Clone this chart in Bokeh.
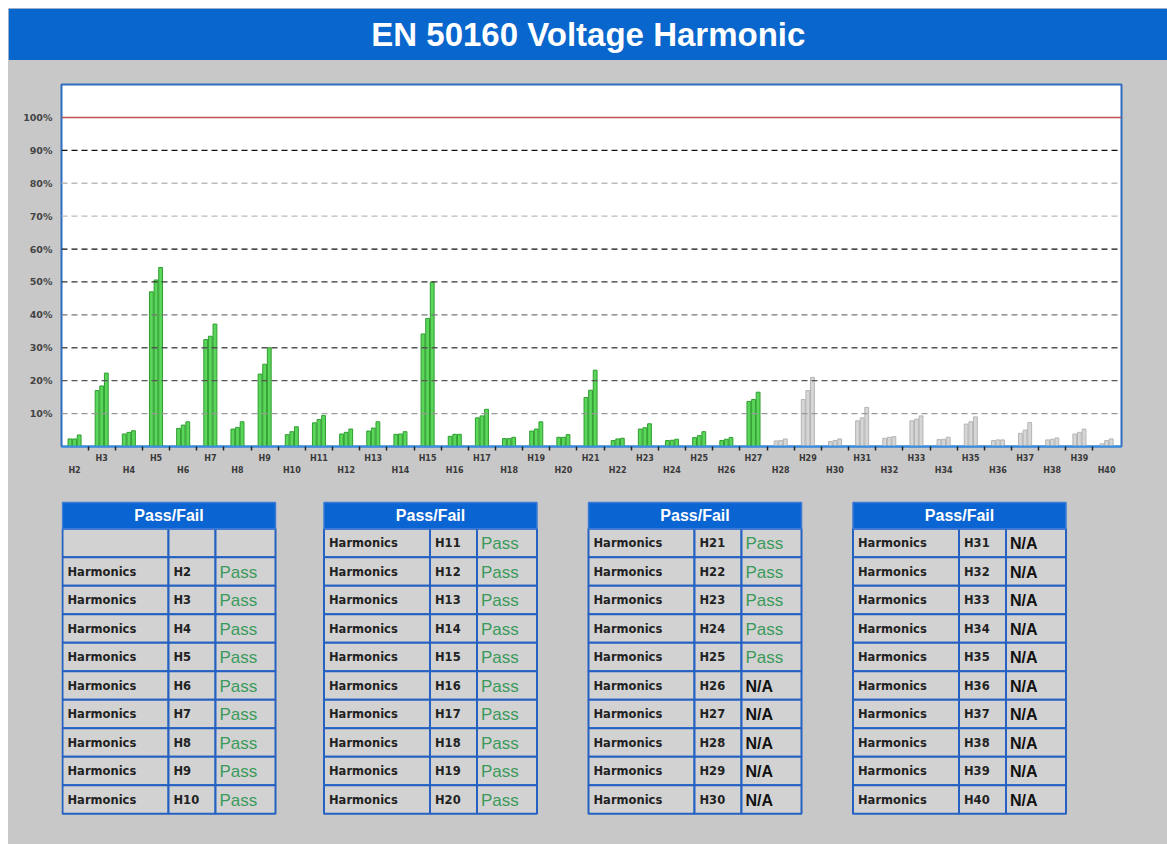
from bokeh.plotting import figure
from bokeh.models import Range1d, FixedTicker, PrintfTickFormatter, LinearAxis, Span, ColumnDataSource
from bokeh.layouts import column
from bokeh.embed import file_html
from bokeh.resources import INLINE
from bokeh.core.properties import value
from bokeh.transform import dodge

# ---------------- data ----------------
harmonics = ["H2", "H3", "H4", "H5", "H6", "H7", "H8", "H9", "H10", "H11",
             "H12", "H13", "H14", "H15", "H16", "H17", "H18", "H19", "H20", "H21",
             "H22", "H23", "H24", "H25", "H26", "H27", "H28", "H29", "H30", "H31",
             "H32", "H33", "H34", "H35", "H36", "H37", "H38", "H39", "H40"]
phase_a = [2.3, 17.0, 3.8, 47.0, 5.5, 32.5, 5.3, 22.0, 3.6, 7.2,
           3.8, 4.7, 3.7, 34.2, 3.1, 8.7, 2.4, 4.7, 2.8, 14.9,
           1.8, 5.3, 1.8, 2.7, 1.8, 13.7, 1.7, 14.3, 1.5, 7.8,
           2.5, 7.8, 2.1, 6.8, 1.8, 4.0, 2.0, 3.8, 0.8]
phase_b = [2.3, 18.4, 4.3, 50.6, 6.5, 33.5, 5.8, 25.0, 4.5, 8.2,
           4.3, 5.6, 3.8, 38.9, 3.7, 9.3, 2.4, 5.3, 2.8, 17.1,
           2.3, 5.7, 1.9, 3.3, 2.2, 14.3, 1.8, 17.0, 1.8, 8.7,
           2.8, 8.3, 2.2, 7.5, 2.0, 5.0, 2.2, 4.3, 1.8]
phase_c = [3.5, 22.3, 4.8, 54.4, 7.5, 37.2, 7.5, 30.0, 6.0, 9.4,
           5.3, 7.5, 4.5, 50.0, 3.7, 11.3, 2.8, 7.5, 3.6, 23.2,
           2.5, 6.9, 2.2, 4.5, 2.7, 16.5, 2.3, 21.0, 2.3, 11.9,
           3.0, 9.3, 2.8, 9.0, 2.0, 7.3, 2.6, 5.3, 2.3]
status = ["Pass", "Pass", "Pass", "Pass", "Pass", "Pass", "Pass", "Pass", "Pass", "Pass",
          "Pass", "Pass", "Pass", "Pass", "Pass", "Pass", "Pass", "Pass", "Pass", "Pass",
          "Pass", "Pass", "Pass", "Pass", "N/A", "N/A", "N/A", "N/A", "N/A", "N/A",
          "N/A", "N/A", "N/A", "N/A", "N/A", "N/A", "N/A", "N/A", "N/A"]
y_ticks = [10, 20, 30, 40, 50, 60, 70, 80, 90, 100]
limit = 100
last_green_order = 27
title_text = "EN 50160 Voltage Harmonic"
table_title = "Pass/Fail"
row_label = "Harmonics"
# harmonics listed in each of the four tables ("" = empty row)
table_groups = [[""] + harmonics[0:9], harmonics[9:19], harmonics[19:29], harmonics[29:39]]

# ---------------- style / layout ----------------
BG = "#c8c8c8"
TITLE_BLUE = "#0866cc"
FRAME_BLUE = "#2f6cc0"
GREEN_FILL, GREEN_LINE = "#5ad65a", "#2f9e2f"
GRAY_FILL, GRAY_LINE = "#d6d6d6", "#b4b4b4"
W = 1159          # page x 8 .. 1167
BL, BR = 53, 46   # shared left/right borders -> frame spans page x 61 .. 1121
FRAME_L, FRAME_R = 8 + BL, 8 + W - BR

# ---------------- title bar ----------------
tf = figure(width=W, height=52, x_range=Range1d(0, 1), y_range=Range1d(0, 1),
            toolbar_location=None, output_backend="svg",
            x_axis_location=None, y_axis_location=None,
            min_border_left=BL, min_border_right=BR, min_border_top=2, min_border_bottom=2)
tf.grid.visible = False
tf.background_fill_color = TITLE_BLUE
tf.border_fill_color = TITLE_BLUE
tf.outline_line_color = TITLE_BLUE
tf.outline_line_width = 2
tf.text(x=[0.497], y=[0.5], text=[title_text], text_align="center", text_baseline="middle",
        text_color="white", text_font=value("Liberation Sans"),
        text_font_style="bold", text_font_size="33px")

# ---------------- bar chart ----------------
idx = list(range(len(harmonics)))
orders = [int(h[1:]) for h in harmonics]
fills = [GREEN_FILL if o <= last_green_order else GRAY_FILL for o in orders]
lines = [GREEN_LINE if o <= last_green_order else GRAY_LINE for o in orders]
src = ColumnDataSource(dict(idx=idx, a=phase_a, b=phase_b, c=phase_c, fill=fills, line=lines))

p = figure(width=W, height=430, x_range=Range1d(-0.48, 38.55), y_range=Range1d(0, 110),
           toolbar_location=None, output_backend="svg",
           x_axis_location=None, y_axis_location=None,
           min_border_left=BL, min_border_right=BR, min_border_top=24, min_border_bottom=44)
p.grid.visible = False
p.background_fill_color = "white"
p.border_fill_color = BG
p.outline_line_color = FRAME_BLUE
p.outline_line_width = 2

grid_colors = {10: "#999999", 20: "#555555", 30: "#555555", 40: "#777777", 50: "#333333",
               60: "#111111", 70: "#bbbbbb", 80: "#bbbbbb", 90: "#111111"}
for lvl in y_ticks:
    if lvl == limit:
        continue
    p.add_layout(Span(location=lvl, dimension="width", line_color=grid_colors[lvl],
                      line_dash="6 4", line_width=1.3))
p.add_layout(Span(location=limit, dimension="width", line_color="#c0504d", line_width=1.5))

for col, off in (("a", -0.17), ("b", 0.0), ("c", 0.17)):
    p.vbar(x=dodge("idx", off, range=p.x_range), top=col, width=0.14, bottom=0, source=src,
           fill_color="fill", line_color="line", line_width=1)

yax = LinearAxis(ticker=FixedTicker(ticks=y_ticks), formatter=PrintfTickFormatter(format="%d%%"),
                 axis_line_color=None, major_tick_line_color=None, minor_tick_line_color=None,
                 major_tick_out=0, major_tick_in=0, minor_tick_out=0, minor_tick_in=0,
                 major_label_standoff=9, major_label_text_font_size="9.5px",
                 major_label_text_font="DejaVu Sans", major_label_text_font_style="bold",
                 major_label_text_color="#444444")
p.add_layout(yax, "left")

odd_idx = [i for i in idx if orders[i] % 2 == 1]
even_idx = [i for i in idx if orders[i] % 2 == 0]
bounds = [i + 0.5 for i in idx[:-1]]
lab_kw = dict(major_label_text_font_size="8px", major_label_text_font="DejaVu Sans",
              major_label_text_font_style="bold", major_label_text_color="#3a3a3a")
ax1 = LinearAxis(ticker=FixedTicker(ticks=odd_idx, minor_ticks=bounds),
                 major_label_overrides={i: harmonics[i] for i in odd_idx},
                 major_tick_out=0, major_tick_in=0, minor_tick_out=4, minor_tick_in=0,
                 minor_tick_line_color="#222222", minor_tick_line_width=1.5,
                 axis_line_color="#3a8ee0", axis_line_width=2,
                 major_label_standoff=3, **lab_kw)
ax2 = LinearAxis(ticker=FixedTicker(ticks=even_idx),
                 major_label_overrides={i: harmonics[i] for i in even_idx},
                 major_tick_out=0, major_tick_in=0, minor_tick_out=0, minor_tick_in=0,
                 major_tick_line_color=None, minor_tick_line_color=None, axis_line_color=None,
                 major_label_standoff=0, **lab_kw)
p.add_layout(ax1, "below")
p.add_layout(ax2, "below")

# ---------------- tables ----------------
TOP_Y, BOT_Y = 490, 844
PAD_T = 2
tb = figure(width=W, height=BOT_Y - TOP_Y, x_range=Range1d(FRAME_L, FRAME_R),
            y_range=Range1d(BOT_Y, TOP_Y + PAD_T), toolbar_location=None, output_backend="svg",
            x_axis_location=None, y_axis_location=None,
            min_border_left=BL, min_border_right=BR, min_border_top=PAD_T, min_border_bottom=0)
tb.grid.visible = False
tb.background_fill_color = BG
tb.border_fill_color = BG
tb.outline_line_color = BG
tb.outline_line_width = 2

table_left = [62, 323.5, 588, 852.5]
col_edges = [0, 106, 153, 213]
head_top, head_bot, row_h = 502, 528.3, 28.5

hq = dict(left=[], right=[], top=[], bottom=[])
cq = dict(left=[], right=[], top=[], bottom=[])
t_lab = dict(x=[], y=[], text=[])
t_h = dict(x=[], y=[], text=[])
t_pass = dict(x=[], y=[], text=[])
t_na = dict(x=[], y=[], text=[])
t_head = dict(x=[], y=[], text=[])
for L, group in zip(table_left, table_groups):
    hq["left"].append(L); hq["right"].append(L + col_edges[-1])
    hq["top"].append(head_top); hq["bottom"].append(head_bot)
    t_head["x"].append(L + col_edges[-1] / 2); t_head["y"].append((head_top + head_bot) / 2)
    t_head["text"].append(table_title)
    for r, h in enumerate(group):
        y0 = head_bot + r * row_h
        for c in range(3):
            cq["left"].append(L + col_edges[c]); cq["right"].append(L + col_edges[c + 1])
            cq["top"].append(y0); cq["bottom"].append(y0 + row_h)
        if not h:
            continue
        yc = y0 + row_h / 2
        t_lab["x"].append(L + 5); t_lab["y"].append(yc); t_lab["text"].append(row_label)
        t_h["x"].append(L + col_edges[1] + 5); t_h["y"].append(yc); t_h["text"].append(h)
        s = status[harmonics.index(h)]
        d = t_pass if s == "Pass" else t_na
        d["x"].append(L + col_edges[2] + 4); d["y"].append(yc + 0.5); d["text"].append(s)

tb.quad(source=ColumnDataSource(cq), fill_color="#d2d2d2", line_color="#2461c2", line_width=2)
tb.quad(source=ColumnDataSource(hq), fill_color="#0a64d2", line_color="#3a7ad6", line_width=1.5)
tb.text(source=ColumnDataSource(t_head), x="x", y="y", text="text", text_align="center",
        text_baseline="middle", text_color="white", text_font=value("Liberation Sans"),
        text_font_style="bold", text_font_size="16px")
tb.text(source=ColumnDataSource(t_lab), x="x", y="y", text="text", text_align="left",
        text_baseline="middle", text_color="#222222", text_font=value("DejaVu Sans"),
        text_font_style="bold", text_font_size="11.5px")
tb.text(source=ColumnDataSource(t_h), x="x", y="y", text="text", text_align="left",
        text_baseline="middle", text_color="#222222", text_font=value("DejaVu Sans"),
        text_font_style="bold", text_font_size="11.5px")
tb.text(source=ColumnDataSource(t_pass), x="x", y="y", text="text", text_align="left",
        text_baseline="middle", text_color="#3a9a5a", text_font=value("Liberation Sans"),
        text_font_size="17px")
tb.text(source=ColumnDataSource(t_na), x="x", y="y", text="text", text_align="left",
        text_baseline="middle", text_color="#111111", text_font=value("Liberation Sans"),
        text_font_style="bold", text_font_size="16px")

layout = column(tf, p, tb, spacing=0, margin=(8, 0, 0, 8), styles={"background-color": BG})
open("out.html", "w").write(file_html(layout, INLINE))
